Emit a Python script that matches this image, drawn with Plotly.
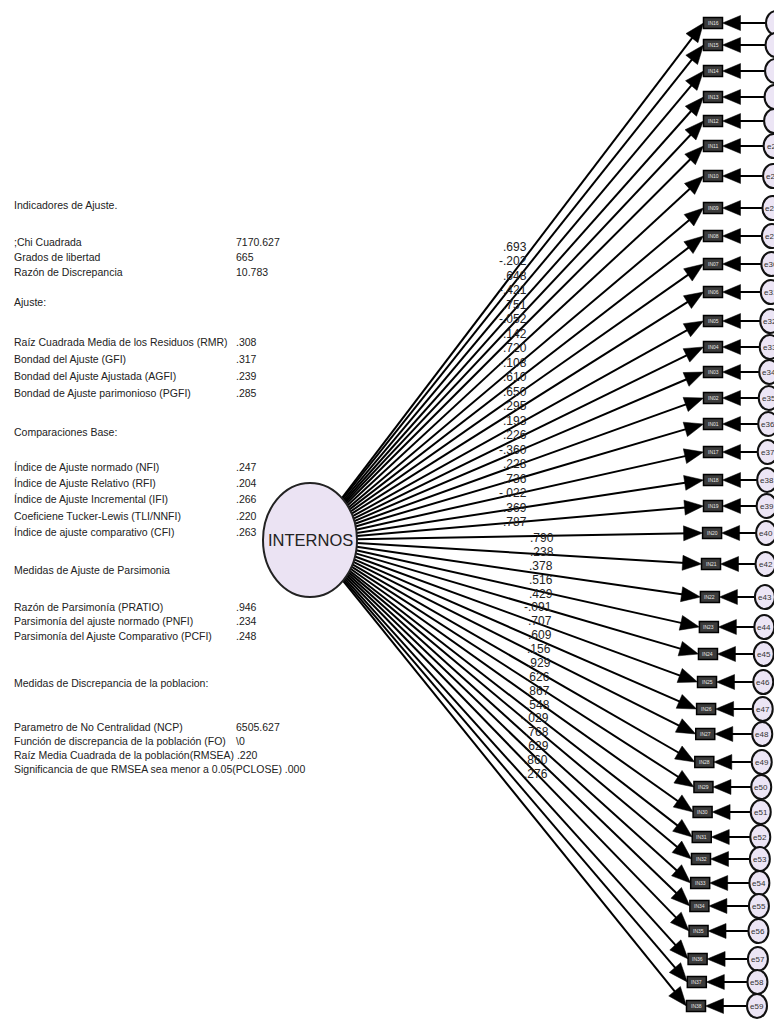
import plotly.graph_objects as go
import numpy as np

# ---------------- data ----------------
latent_name = "INTERNOS"
indicators = ["IN16", "IN15", "IN14", "IN13", "IN12", "IN11", "IN10", "IN09", "IN08", "IN07",
              "IN06", "IN05", "IN04", "IN03", "IN02", "IN01", "IN17", "IN18", "IN19", "IN20",
              "IN21", "IN22", "IN23", "IN24", "IN25", "IN26", "IN27", "IN28", "IN29", "IN30",
              "IN31", "IN32", "IN33", "IN34", "IN35", "IN36", "IN37", "IN38"]
errors = ["e21", "e22", "e23", "e24", "e25", "e26", "e27", "e28", "e29", "e30",
          "e31", "e32", "e33", "e34", "e35", "e36", "e37", "e38", "e39", "e40",
          "e42", "e43", "e44", "e45", "e46", "e47", "e48", "e49", "e50", "e51",
          "e52", "e53", "e54", "e55", "e56", "e57", "e58", "e59"]
loadings = [".693", "-.202", ".648", "-.421", ".751", "-.052", ".142", ".720", "-.108", ".610",
            ".650", ".295", ".193", ".226", "-.360", ".228", ".736", "-.022", ".369", ".787",
            ".790", ".238", ".378", ".516", ".429", "-.091", ".707", ".609", ".156", ".929",
            ".626", ".867", ".548", "-.029", ".768", ".629", ".860", ".276"]

fit_title = "Indicadores de Ajuste."
fit_sections = [
    ("", [(";Chi Cuadrada", "7170.627"), ("Grados de libertad", "665"), ("Razón de Discrepancia", "10.783")]),
    ("Ajuste:", [("Raíz Cuadrada Media de los Residuos (RMR)", ".308"), ("Bondad del Ajuste (GFI)", ".317"),
                 ("Bondad del Ajuste Ajustada (AGFI)", ".239"), ("Bondad de Ajuste parimonioso (PGFI)", ".285")]),
    ("Comparaciones Base:", [("Índice de Ajuste normado (NFI)", ".247"), ("Índice de Ajuste Relativo (RFI)", ".204"),
                             ("Índice de Ajuste Incremental (IFI)", ".266"), ("Coeficiene Tucker-Lewis (TLI/NNFI)", ".220"),
                             ("Índice de ajuste comparativo (CFI)", ".263")]),
    ("Medidas de Ajuste de Parsimonia", [("Razón de Parsimonía (PRATIO)", ".946"), ("Parsimonía del ajuste normado (PNFI)", ".234"),
                                         ("Parsimonía del Ajuste Comparativo (PCFI)", ".248")]),
    ("Medidas de Discrepancia de la poblacion:", [("Parametro de No Centralidad (NCP)", "6505.627"),
                                                  ("Función de discrepancia de la población (FO)", "\\0")]),
]
fit_inline = ["Raíz Media Cuadrada de la población(RMSEA) .220",
              "Significancia de que RMSEA sea menor a 0.05(PCLOSE) .000"]

# ---------------- layout helpers ----------------
W, H = 774, 1020
FONT = "Liberation Sans, Arial, sans-serif"
box_y = [23, 45, 71, 97, 121, 146, 176, 208, 236, 264, 292, 321, 347, 372, 398, 424, 452, 480, 506, 533,
         564, 597, 627, 654, 682, 709, 734, 762, 787, 812, 837, 859, 883, 906, 931, 959, 982, 1006]
BW, BH = 19, 11
ERX, ERY = 10, 12
LC = (310, 540)
LRX, LRY = 47, 57

def box_cx(y):
    return 713 if y <= 506 else 713 - (y - 506) / (1006 - 506) * 17

def err_cx(y):
    return 776 - (y - 23) / (1006 - 23) * 19

fig = go.Figure()
shapes = []
ann = []

lx, ly = [], []
tx, ty = [], []

def tri(tip, u, L=19, Hw=7.5):
    n = np.array([-u[1], u[0]])
    base = np.array(tip) - L * u
    p1 = base + Hw * n
    p2 = base - Hw * n
    tx.extend([tip[0], p1[0], p2[0], tip[0], None])
    ty.extend([tip[1], p1[1], p2[1], tip[1], None])

for i, y in enumerate(box_y):
    cx = box_cx(y)
    # loading path
    end = np.array([cx - BW / 2, y])
    d = end - np.array(LC)
    t = 1 / np.sqrt((d[0] / LRX) ** 2 + (d[1] / LRY) ** 2)
    start = np.array(LC) + t * d
    u = d / np.linalg.norm(d)
    lx.extend([start[0], end[0] - 12 * u[0], None])
    ly.extend([start[1], end[1] - 12 * u[1], None])
    tri(end, u)
    # error path
    ex = err_cx(y)
    bend = np.array([cx + BW / 2, y])
    lx.extend([ex - ERX, bend[0] + 10, None])
    ly.extend([y, y, None])
    tri(bend, np.array([-1.0, 0.0]), L=18, Hw=7.5)
    # box
    shapes.append(dict(type="rect", xref="x", yref="y", x0=cx - BW / 2, x1=cx + BW / 2,
                       y0=y - BH / 2, y1=y + BH / 2, fillcolor="#3b3b3b",
                       line=dict(color="black", width=1.5), layer="above"))
    ann.append(dict(x=cx, y=y, text=indicators[i], showarrow=False,
                    font=dict(size=5, color="#e8e8e8", family=FONT)))
    # error circle
    shapes.append(dict(type="circle", xref="x", yref="y", x0=ex - ERX, x1=ex + ERX,
                       y0=y - ERY, y1=y + ERY, fillcolor="#ece5f5",
                       line=dict(color="#111", width=2), layer="above"))
    ann.append(dict(x=ex, y=y, text=errors[i], showarrow=False,
                    font=dict(size=8, color="#333", family=FONT)))

fig.add_trace(go.Scatter(x=lx, y=ly, mode="lines", line=dict(color="black", width=2),
                         hoverinfo="skip", showlegend=False))
fig.add_trace(go.Scatter(x=tx, y=ty, mode="lines", fill="toself", fillcolor="black",
                         line=dict(color="black", width=0.5), hoverinfo="skip", showlegend=False))

# latent variable
shapes.append(dict(type="circle", xref="x", yref="y", x0=LC[0] - LRX, x1=LC[0] + LRX,
                   y0=LC[1] - LRY, y1=LC[1] + LRY, fillcolor="#ebe3f3",
                   line=dict(color="#222", width=2), layer="above"))
ann.append(dict(x=LC[0], y=LC[1], text=latent_name, showarrow=False,
                font=dict(size=16.5, color="#222", family=FONT)))

# loading labels
n_up = 20
for i, lab in enumerate(loadings):
    if i < n_up:
        yy = 247 + i * (522 - 247) / (n_up - 1)
        xx = 529
    else:
        k = i - n_up
        yy = 538 + k * (774 - 538) / (len(loadings) - n_up - 1)
        xx = 556 - k * 6 / (len(loadings) - n_up - 1)
    ann.append(dict(x=xx, y=yy, text=lab, showarrow=False, xanchor="right",
                    font=dict(size=12, color="#222", family=FONT)))

# fit text block
TX, VX = 12, 234
fs = 10.5
ann.append(dict(x=TX, y=205, text=fit_title, showarrow=False, xanchor="left",
                font=dict(size=fs, color="#222", family=FONT)))
sec_y = [None, 302, 432, 570, 683]
row_y = [[242, 257, 272], [342, 359, 376, 393], [467, 483, 499, 516, 532], [607, 621, 636], [727, 741]]
for s, (head, rows) in enumerate(fit_sections):
    if head:
        ann.append(dict(x=TX, y=sec_y[s], text=head, showarrow=False, xanchor="left",
                        font=dict(size=fs, color="#222", family=FONT)))
    for r, (lab, val) in enumerate(rows):
        ann.append(dict(x=TX, y=row_y[s][r], text=lab, showarrow=False, xanchor="left",
                        font=dict(size=fs, color="#222", family=FONT)))
        ann.append(dict(x=VX, y=row_y[s][r], text=val, showarrow=False, xanchor="left",
                        font=dict(size=fs, color="#222", family=FONT)))
for r, lab in enumerate(fit_inline):
    ann.append(dict(x=TX, y=755 + 14 * r, text=lab, showarrow=False, xanchor="left",
                    font=dict(size=fs, color="#222", family=FONT)))

fig.update_layout(
    width=W, height=H, margin=dict(l=0, r=0, t=0, b=0),
    paper_bgcolor="white", plot_bgcolor="white",
    xaxis=dict(range=[0, W], visible=False, fixedrange=True),
    yaxis=dict(range=[H, 0], visible=False, fixedrange=True),
    shapes=shapes, annotations=ann, showlegend=False,
)
fig.write_html("out.html")
